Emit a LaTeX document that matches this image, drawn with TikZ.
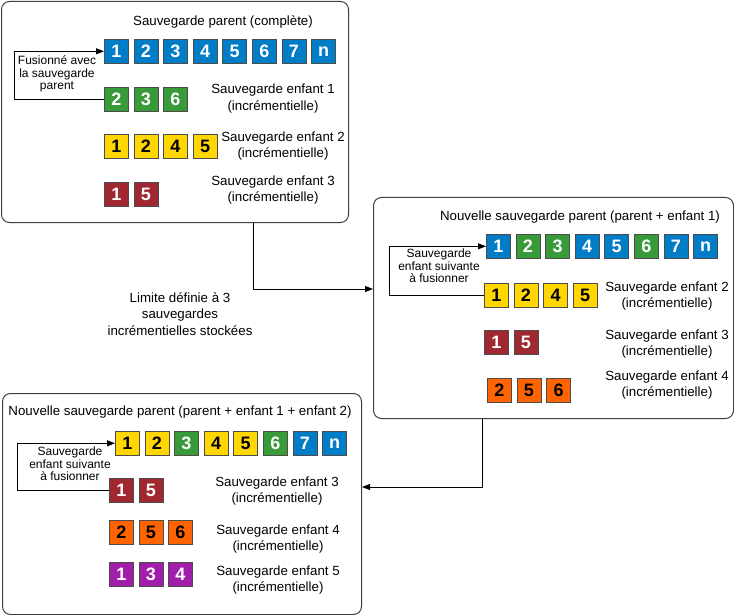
\documentclass[tikz,border=0pt]{standalone}
\usepackage{fontspec}
\setmainfont{Liberation Sans}
\usetikzlibrary{arrows.meta,calc}
\definecolor{cB}{RGB}{0,125,198}
\definecolor{cG}{RGB}{56,154,56}
\definecolor{cY}{RGB}{255,214,0}
\definecolor{cR}{RGB}{160,40,48}
\definecolor{cO}{RGB}{255,100,0}
\definecolor{cP}{RGB}{160,30,170}
\definecolor{frame}{RGB}{64,64,64}
\newcommand\rowof[4]{%
  \foreach \s/\l [count=\i] in {#4}
    \node[sq,\s] (#1\i) at ({#2+29.6*(\i-1)},#3) {\l};}
\tikzset{
  sq/.style={draw=black!70, line width=0.6pt, minimum width=24pt, minimum height=24pt,
    inner sep=0pt, anchor=north west, font=\fontsize{18}{18}\selectfont\bfseries},
  sB/.style={fill=cB,text=white}, sG/.style={fill=cG,text=white},
  sY/.style={fill=cY,text=black}, sO/.style={fill=cO,text=black},
  sR/.style={fill=cR,text=white}, sP/.style={fill=cP,text=white},
  panel/.style={draw=frame, line width=1pt, rounded corners=8pt, anchor=north west,
    inner sep=0pt},
  lab/.style={align=center, font=\fontsize{13.3}{16.5}\selectfont, inner sep=0pt},
  small/.style={align=center, font=\fontsize{12}{12.5}\selectfont, inner sep=0pt},
  arr/.style={draw=black, line width=0.9pt, -{Triangle[length=8pt,width=6pt]}},
}
\begin{document}
\begin{tikzpicture}[x=1pt,y=-1pt]
\useasboundingbox (0,0) rectangle (734,615);
% panels
\node[panel, minimum width=347pt, minimum height=221pt] (P1) at (1,1) {};
\node[panel, minimum width=360pt, minimum height=221pt] (P2) at (373,197) {};
\node[panel, minimum width=359pt, minimum height=221pt] (P3) at (2,393) {};
% panel 1
\node[lab] (t1) at (223,22) {Sauvegarde parent (complète)};
\rowof{a}{104}{39}{sB/1,sB/2,sB/3,sB/4,sB/5,sB/6,sB/7,sB/n}
\rowof{b}{104}{87}{sG/2,sG/3,sG/6}
\rowof{c}{104}{134}{sY/1,sY/2,sY/4,sY/5}
\rowof{d}{104}{182}{sR/1,sR/5}
\node[lab] (l1) at (273,98.5) {Sauvegarde enfant 1\\(incrémentielle)};
\node[lab] (l2) at (283,146) {Sauvegarde enfant 2\\(incrémentielle)};
\node[lab] (l3) at (273,190) {Sauvegarde enfant 3\\(incrémentielle)};
\draw[arr] (b1.west) -- ++(-90,0) coordinate (k1) |- (a1.west);
\node[small] (m1) at (57,74) {Fusionné avec\\la sauvegarde\\parent};
% panel 2
\node[lab] (t2) at (580,217) {Nouvelle sauvegarde parent (parent + enfant 1)};
\rowof{e}{486}{234}{sB/1,sG/2,sG/3,sB/4,sB/5,sG/6,sB/7,sB/n}
\rowof{f}{484}{283}{sY/1,sY/2,sY/4,sY/5}
\rowof{g}{484}{330}{sR/1,sR/5}
\rowof{h}{487}{378}{sO/2,sO/5,sO/6}
\node[lab] (l4) at (667,296) {Sauvegarde enfant 2\\(incrémentielle)};
\node[lab] (l5) at (667,344) {Sauvegarde enfant 3\\(incrémentielle)};
\node[lab] (l6) at (667,385) {Sauvegarde enfant 4\\(incrémentielle)};
\draw[arr] (f1.west) -- ++(-95,0) coordinate (k2) |- (e1.west);
\node[small] (m2) at (439,266) {Sauvegarde\\enfant suivante\\à fusionner};
% panel 3
\node[lab] (t3) at (180,412) {Nouvelle sauvegarde parent (parent + enfant 1 + enfant 2)};
\rowof{p}{115}{431}{sY/1,sY/2,sG/3,sY/4,sY/5,sG/6,sB/7,sB/n}
\rowof{q}{109}{478}{sR/1,sR/5}
\rowof{r}{109}{520}{sO/2,sO/5,sO/6}
\rowof{s}{109}{562}{sP/1,sP/3,sP/4}
\node[lab] (l7) at (277,491) {Sauvegarde enfant 3\\(incrémentielle)};
\node[lab] (l8) at (278,539) {Sauvegarde enfant 4\\(incrémentielle)};
\node[lab] (l9) at (278,580) {Sauvegarde enfant 5\\(incrémentielle)};
\draw[arr] (q1.west) -- ++(-92,0) coordinate (k3) |- (p1.west);
\node[small] (m3) at (70,464) {Sauvegarde\\enfant suivante\\à fusionner};
% connectors between panels
\coordinate (c1) at ($(P1.south west)+(252,0)$);
\coordinate (c2) at ($(P2.north west)+(0,92)$);
\draw[arr] (c1) |- (c2);
\coordinate (c3) at ($(P2.south west)+(109,0)$);
\coordinate (c4) at ($(P3.north east)+(0,94)$);
\draw[arr] (c3) |- (c4);
\node[lab] (lim) at (180,314) {Limite définie à 3\\sauvegardes\\incrémentielles stockées};
\end{tikzpicture}
\end{document}
